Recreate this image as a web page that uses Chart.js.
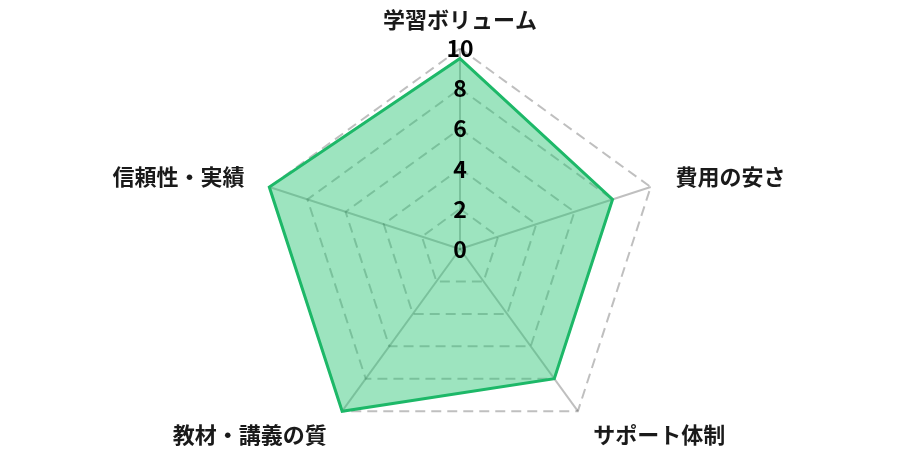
<!DOCTYPE html>
<html lang="ja">
<head>
<meta charset="utf-8">
<script src="https://cdn.jsdelivr.net/npm/chart.js@4"></script>
<style>
  html, body { margin: 0; padding: 0; background: #ffffff; overflow: hidden; }
  #wrap { width: 900px; height: 472px; }
</style>
</head>
<body>
<div id="wrap"><canvas id="chart"></canvas></div>
<script>
const labels = ["学習ボリューム", "費用の安さ", "サポート体制", "教材・講義の質", "信頼性・実績"];
const scores = [9.5, 8, 8, 10, 10];
const tickValues = [0, 2, 4, 6, 8, 10];

const FONT = "'Noto Sans CJK JP', 'Noto Sans', sans-serif";

new Chart(document.getElementById("chart"), {
  type: "radar",
  data: {
    labels: labels,
    datasets: [{
      data: scores,
      backgroundColor: "rgba(38, 196, 112, 0.45)",
      borderColor: "#1db868",
      borderWidth: 3,
      pointRadius: 0,
    }],
  },
  options: {
    responsive: true,
    maintainAspectRatio: false,
    animation: false,
    layout: { padding: { top: 8, left: 20 } },
    plugins: {
      legend: { display: false },
      tooltip: { enabled: false },
    },
    scales: {
      r: {
        // a hair below zero so Chart.js also prints the "0" tick
        min: -0.0001,
        max: 10,
        afterBuildTicks(axis) {
          axis.ticks = tickValues.map((v) => ({ value: v }));
        },
        ticks: {
          z: 1,
          showLabelBackdrop: false,
          backdropPadding: 0,
          color: "#000000",
          font: { family: FONT, size: 23, weight: "bold" },
        },
        grid: {
          color: "rgba(0, 0, 0, 0.25)",
          lineWidth: 2,
        },
        border: { dash: [10, 6] },
        angleLines: {
          color: "rgba(0, 0, 0, 0.25)",
          lineWidth: 2,
        },
        pointLabels: {
          color: "#1a1a1a",
          padding: 14.5,
          font: { family: FONT, size: 22, weight: "bold", lineHeight: 0.25 },
        },
      },
    },
  },
});
</script>
</body>
</html>
